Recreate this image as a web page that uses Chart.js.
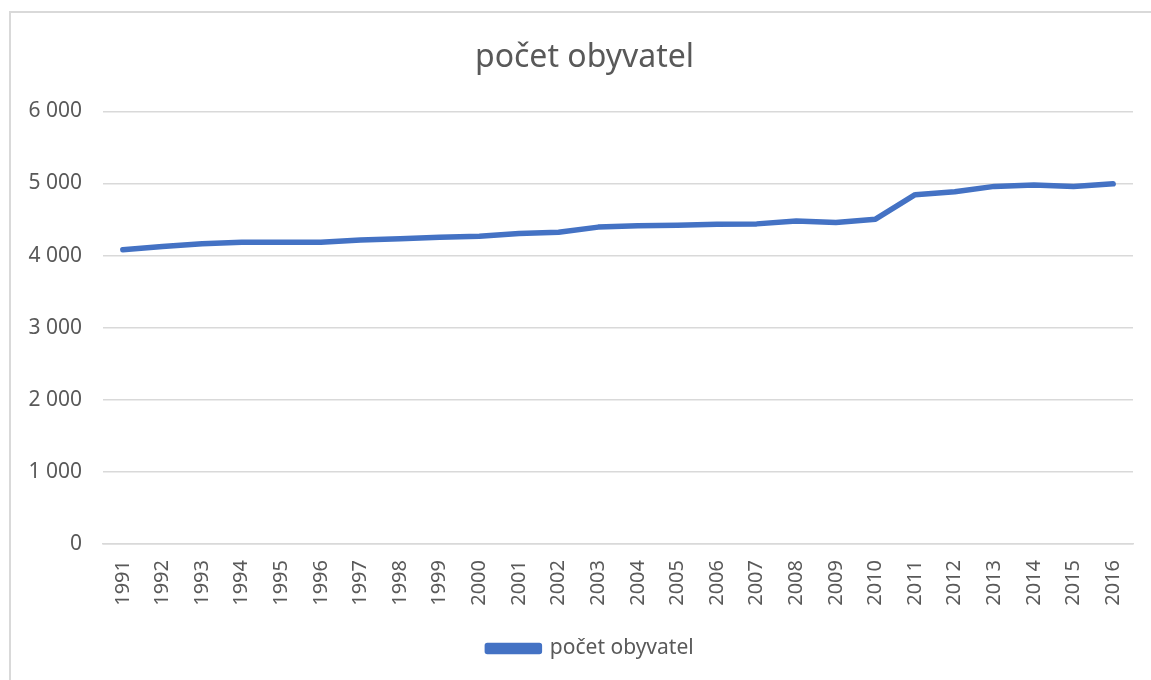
<!DOCTYPE html>
<html>
<head>
<meta charset="utf-8">
<script src="https://cdn.jsdelivr.net/npm/chart.js@4"></script>
<style>
  html, body { margin: 0; padding: 0; background: #fff; }
  #wrap { position: relative; width: 1151px; height: 680px; overflow: hidden; }
  #frame { position: absolute; left: 9px; top: 11px; width: 1200px; height: 700px; border: 2px solid #d9d9d9; }
  #chart { position: absolute; left: 0; top: 0; }
</style>
</head>
<body>
<div id="wrap">
  <div id="frame"></div>
  <canvas id="chart" width="1151" height="680"></canvas>
</div>
<script>
// roky
const years = ["1991", "1992", "1993", "1994", "1995", "1996", "1997", "1998", "1999", "2000",
    "2001", "2002", "2003", "2004", "2005", "2006", "2007", "2008", "2009", "2010",
    "2011", "2012", "2013", "2014", "2015", "2016"];

// počet obyvatel
const population = [4080, 4125, 4165, 4185, 4185, 4185, 4215, 4235, 4255, 4270,
    4305, 4325, 4395, 4415, 4420, 4435, 4440, 4480, 4460, 4505,
    4845, 4885, 4960, 4980, 4960, 4995];

const yTicks = [0, 1000, 2000, 3000, 4000, 5000, 6000];

const grey = "#595959";
const font = "'Noto Sans', 'Open Sans', sans-serif";

function fmt(v) {
    return String(v).replace(/\B(?=(\d{3})+(?!\d))/g, " ");
}

// titulek a legenda jsou v originale vycentrovane na cely ramecek, ne na osu
const shiftBlocks = {
    id: "shiftBlocks",
    afterLayout(chart) {
        if (chart.titleBlock) {
            chart.titleBlock.left += 18;
            chart.titleBlock.right += 18;
        }
        if (chart.legend) {
            chart.legend.left += 24;
            chart.legend.right += 24;
        }
    }
};

new Chart(document.getElementById("chart"), {
    type: "line",
    data: {
        labels: years,
        datasets: [{
            label: "počet obyvatel",
            data: population,
            borderColor: "#4472C4",
            backgroundColor: "#4472C4",
            borderWidth: 5.5,
            pointRadius: 0,
            tension: 0,
            borderCapStyle: "round",
            borderJoinStyle: "round",
            fill: false
        }]
    },
    options: {
        responsive: false,
        animation: false,
        layout: { padding: { left: 0, right: 18, top: 0, bottom: 11 } },
        plugins: {
            title: {
                display: true,
                text: "počet obyvatel",
                color: grey,
                font: { family: font, size: 32, weight: "normal" },
                padding: { top: 39, bottom: 34 }
            },
            legend: {
                position: "bottom",
                labels: {
                    color: grey,
                    font: { family: font, size: 21 },
                    boxWidth: 52,
                    boxHeight: 6,
                    padding: 12
                }
            },
            tooltip: { enabled: false }
        },
        scales: {
            x: {
                offset: true,
                grid: { display: false },
                border: { color: "#d9d9d9", width: 1.5 },
                ticks: {
                    color: grey,
                    font: { family: font, size: 20 },
                    minRotation: 90,
                    maxRotation: 90,
                    padding: 8,
                    autoSkip: false
                },
                afterFit: s => { s.height = 82; }
            },
            y: {
                min: 0,
                max: 6000,
                afterBuildTicks: s => { s.ticks = yTicks.map(v => ({ value: v })); },
                grid: { color: "#d9d9d9", lineWidth: 1.5, drawTicks: false },
                border: { display: false },
                ticks: {
                    color: grey,
                    font: { family: font, size: 21 },
                    padding: 21,
                    callback: v => fmt(v)
                },
                afterFit: s => { s.width = 103; }
            }
        }
    },
    plugins: [shiftBlocks]
});
</script>
</body>
</html>
